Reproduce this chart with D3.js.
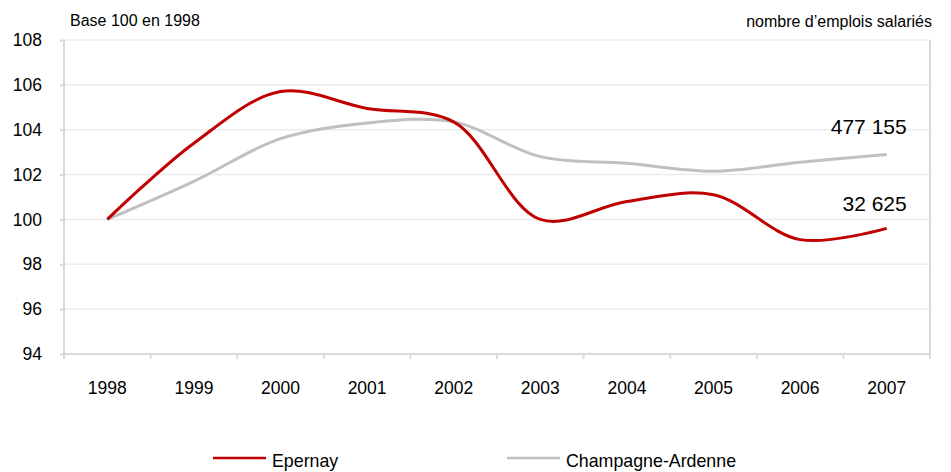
<!DOCTYPE html>
<html>
<head>
<meta charset="utf-8">
<script src="https://cdn.jsdelivr.net/npm/d3@7"></script>
<style>
body { margin: 0; background: #fff; }
svg { font-family: "Liberation Sans", Arial, sans-serif; }
</style>
</head>
<body>
<svg id="drawing_region" width="951" height="472"></svg>
<script>
var years = ["1998", "1999", "2000", "2001", "2002", "2003", "2004", "2005", "2006", "2007"];
var epernay = [100, 103.4, 105.7, 104.95, 104.35, 100.0, 100.8, 101.1, 99.1, 99.6];
var champagne = [100, 101.7, 103.6, 104.3, 104.35, 102.8, 102.5, 102.15, 102.55, 102.9];
var yticks = [94, 96, 98, 100, 102, 104, 106, 108];
var endLabels = ["32 625", "477 155"];

var width = 951;
var height = 472;
var margin = { top: 40, right: 21, bottom: 118, left: 64 };
const inner_width = width - margin.left - margin.right;
const inner_height = height - margin.top - margin.bottom;

var svg = d3.select('#drawing_region');
var chart = svg.append('g')
    .attr('transform', `translate(${margin.left}, ${margin.top})`);

const xscale = d3.scaleBand()
    .domain(years)
    .range([0, inner_width]);

const yscale = d3.scaleLinear()
    .domain([94, 108])
    .range([inner_height, 0]);

// grid lines
chart.append('g')
    .selectAll('line')
    .data(yticks)
    .join('line')
    .attr('x1', 0)
    .attr('x2', inner_width)
    .attr('y1', d => yscale(d))
    .attr('y2', d => yscale(d))
    .attr('stroke', '#ececec')
    .attr('stroke-width', 1.5);

// right border
chart.append('line')
    .attr('x1', inner_width).attr('x2', inner_width)
    .attr('y1', 0).attr('y2', inner_height + 5)
    .attr('stroke', '#d9d9d9').attr('stroke-width', 2);

const xaxis = d3.axisBottom(xscale).tickSize(0).tickPadding(27.5);
const yaxis = d3.axisLeft(yscale).tickValues(yticks).tickSize(4).tickPadding(18);

const xaxis_group = chart.append('g')
    .attr('transform', `translate(0, ${inner_height})`)
    .call(xaxis);
xaxis_group.select('.domain')
    .attr('d', `M0,5V0H${inner_width}V5`);
xaxis_group.selectAll('.tk')
    .data(years)
    .join('line')
    .attr('class', 'tk')
    .attr('x1', d => xscale(d)).attr('x2', d => xscale(d))
    .attr('y1', 0).attr('y2', 5)
    .attr('stroke', '#d9d9d9').attr('stroke-width', 2);

const yaxis_group = chart.append('g').call(yaxis);
yaxis_group.select('.domain').attr('d', `M0,0V${inner_height + 5}`);

[xaxis_group, yaxis_group].forEach(g => {
    g.select('.domain').attr('stroke', '#d9d9d9').attr('stroke-width', 2).attr('fill', 'none');
    g.selectAll('.tick line').attr('stroke', '#d9d9d9').attr('stroke-width', 2);
    g.selectAll('.tick text').attr('font-size', 17.5).attr('fill', '#000')
        .attr('font-family', '"Liberation Sans", Arial, sans-serif');
});

const line = d3.line()
    .x((d, i) => xscale(years[i]) + xscale.bandwidth() / 2)
    .y(d => yscale(d))
    .curve(d3.curveCatmullRom.alpha(0.5));

chart.append('path')
    .datum(champagne)
    .attr('d', line)
    .attr('fill', 'none')
    .attr('stroke', '#c0c0c0')
    .attr('stroke-width', 3);

chart.append('path')
    .datum(epernay)
    .attr('d', line)
    .attr('fill', 'none')
    .attr('stroke', '#c00000')
    .attr('stroke-width', 3);

// end labels
var lastX = xscale(years[years.length - 1]) + xscale.bandwidth() / 2;
chart.append('text')
    .attr('x', lastX + 20)
    .attr('y', yscale(champagne[champagne.length - 1]) - 20)
    .attr('text-anchor', 'end')
    .attr('font-size', 21)
    .text(endLabels[1]);
chart.append('text')
    .attr('x', lastX + 20)
    .attr('y', yscale(epernay[epernay.length - 1]) - 17)
    .attr('text-anchor', 'end')
    .attr('font-size', 21)
    .text(endLabels[0]);

// titles
svg.append('text')
    .attr('x', 70).attr('y', 26)
    .attr('font-size', 16)
    .text('Base 100 en 1998');
svg.append('text')
    .attr('x', 932).attr('y', 27)
    .attr('text-anchor', 'end')
    .attr('font-size', 16)
    .text('nombre d\u2019emplois salariés');

// legend
var legend = [
    { name: 'Epernay', color: '#c00000', x: 213 },
    { name: 'Champagne-Ardenne', color: '#c0c0c0', x: 507 }
];
var lg = svg.append('g').selectAll('g').data(legend).join('g')
    .attr('transform', d => `translate(${d.x}, 458)`);
lg.append('line')
    .attr('x1', 0).attr('x2', 53)
    .attr('stroke', d => d.color)
    .attr('stroke-width', 2.5);
lg.append('text')
    .attr('x', 59).attr('y', 9)
    .attr('font-size', 17.8)
    .text(d => d.name);
</script>
</body>
</html>
